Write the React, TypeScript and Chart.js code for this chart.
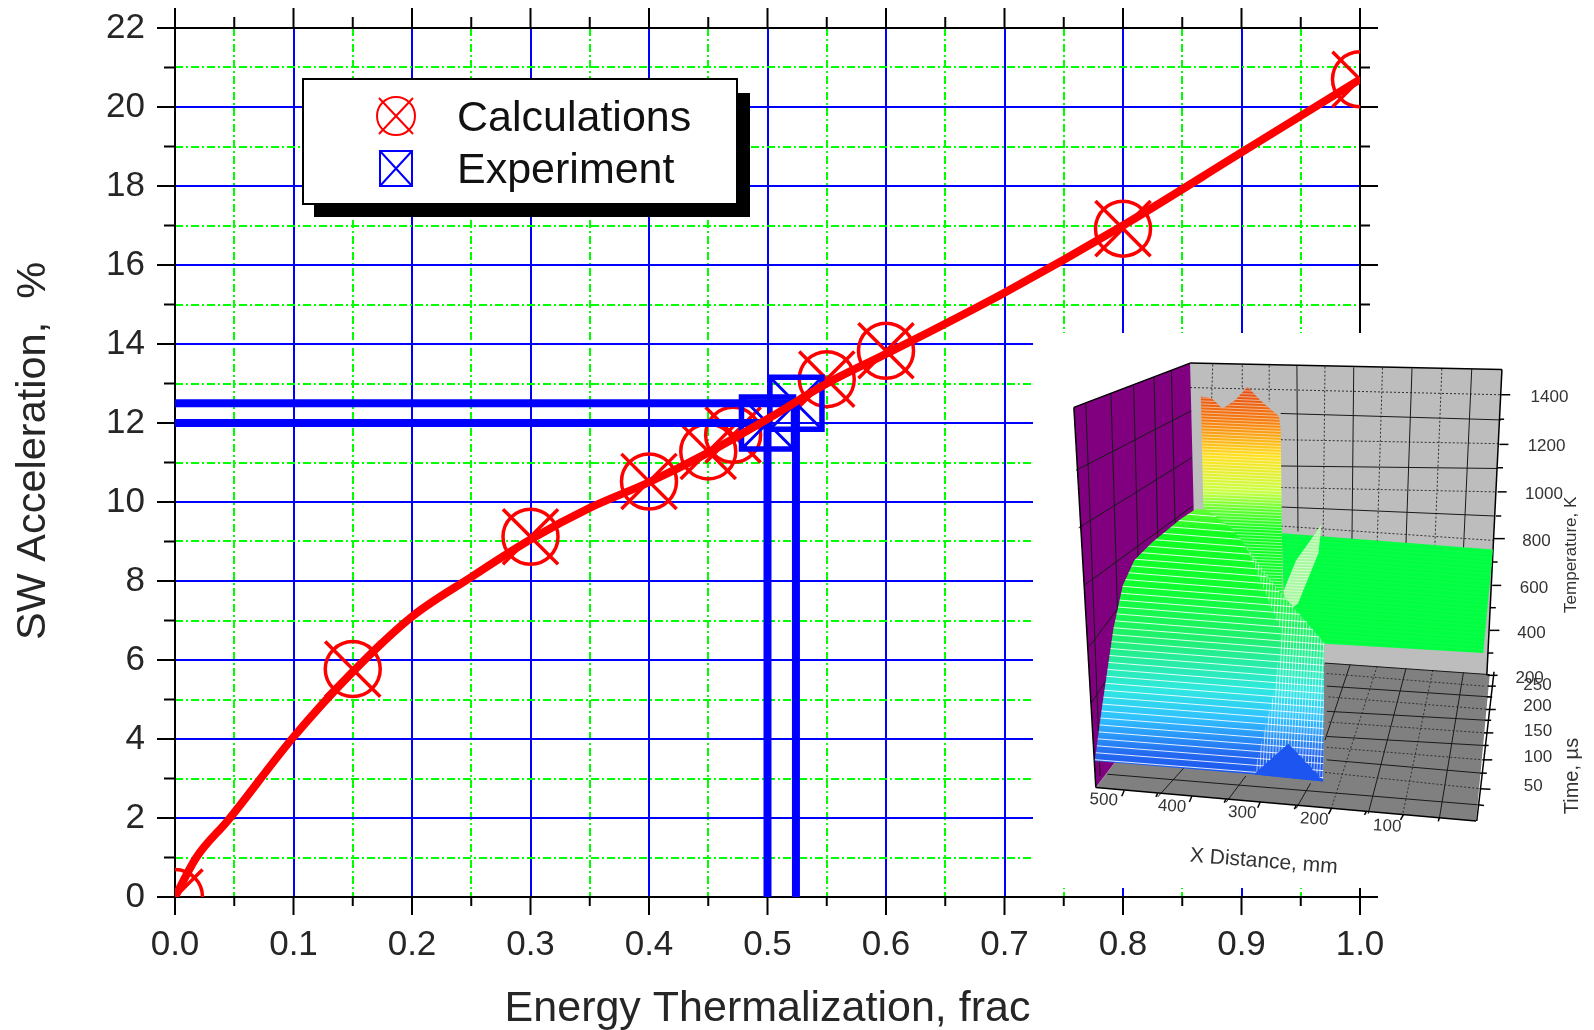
import React, { useEffect, useRef } from "react";
import { Chart, registerables } from "chart.js";

Chart.register(...registerables);

const FONT = '"Liberation Sans", Arial, sans-serif';
const BLUE = "#0000ff";
const GREEN = "#00ff00";
const RED = "#ff0000";
const INK = "#262626";

// ---------- main chart data ----------
const curveX = [0, 0.018, 0.045, 0.1, 0.15, 0.2, 0.25, 0.3, 0.35, 0.4, 0.45, 0.5, 0.55, 0.6, 0.7, 0.8, 0.9, 1];
const curveY = [0, 1, 1.95, 4.05, 5.7, 7.1, 8.1, 9.05, 9.85, 10.5, 11.25, 12.1, 13, 13.75, 15.3, 17, 18.85, 20.7];
const calcX = [0, 0.15, 0.3, 0.4, 0.45, 0.471, 0.55, 0.6, 0.8, 1];
const calcY = [0, 5.77, 9.12, 10.52, 11.28, 11.7, 13.11, 13.83, 16.92, 20.7];
const expX = [0.5, 0.524];
const expY = [12, 12.5];
const legendLabels = ["Calculations", "Experiment"];
const xTitle = "Energy Thermalization, frac";
const yTitle = "  SW Acceleration,  %";

// ---------- inset data (picture units of the inset) ----------
const backWall = [[445, 92], [1312, 110], [1270, 960], [445, 900]];
const sideWall = [[122, 215], [445, 92], [465, 900], [183, 1272]];
const floorPlane = [[183, 1272], [1240, 1365], [1278, 958], [465, 900]];
const plane = [[700, 565], [1287, 610], [1260, 898], [820, 872], [785, 850], [735, 790], [705, 740]];
const frontBlock = [[180, 1198], [200, 1050], [232, 830], [258, 710], [290, 640], [340, 590], [420, 525], [460, 498], [490, 498], [560, 552], [592, 590], [630, 655], [700, 735], [760, 800], [818, 870], [815, 1255], [620, 1235]];
const ridge = [[475, 185], [505, 190], [535, 218], [570, 195], [605, 158], [640, 195], [692, 240], [697, 280], [702, 720], [705, 800], [630, 655], [592, 590], [482, 495]];
const sideRidge = [[810, 540], [802, 620], [745, 760], [712, 785], [705, 725], [740, 640], [790, 570]];
const paleCore = [[600, 600], [700, 735], [818, 870], [815, 1250], [720, 1150], [622, 1235], [680, 1000], [700, 840]];
const blueNotch = [[622, 1236], [718, 1150], [815, 1255]];
const darkSegments = [
  [155, 205, 195, 1240], [225, 178, 250, 1000], [288, 155, 305, 800], [345, 132, 358, 700], [393, 112, 405, 600],
  [128, 390, 448, 225], [135, 550, 450, 355], [150, 710, 452, 490], [165, 880, 300, 700], [172, 1035, 240, 930],
  [742, 100, 745, 560], [900, 104, 895, 590], [1062, 107, 1045, 600], [1228, 109, 1205, 610],
  [697, 232, 1310, 250], [697, 378, 1300, 385], [697, 492, 1290, 517],
  [820, 926, 1278, 958], [825, 990, 1280, 1020], [825, 1060, 1270, 1085], [825, 1130, 1262, 1155], [825, 1195, 1255, 1232],
  [215, 1235, 1245, 1320], [890, 930, 820, 1140], [1045, 942, 940, 1345], [1205, 952, 1138, 1358],
  [355, 1298, 430, 1215], [545, 1313, 600, 1240], [740, 1330, 780, 1260],
];
const dottedSegments = [
  [508, 96, 505, 190], [590, 98, 590, 160], [665, 99, 665, 200], [820, 102, 815, 580], [980, 105, 965, 600], [1145, 108, 1125, 610],
  [445, 160, 1310, 180], [697, 305, 1305, 316], [697, 438, 1295, 450], [697, 545, 1288, 585],
  [965, 935, 835, 1338], [1120, 945, 1035, 1352],
  [825, 955, 1262, 990], [830, 1020, 1280, 1055], [830, 1090, 1265, 1120], [825, 1160, 1260, 1195], [820, 1230, 1250, 1275],
];
const axisSegments = [
  [183, 1272, 1240, 1365], [1312, 110, 1270, 960], [1290, 950, 1242, 1365], [122, 215, 445, 92], [445, 92, 1312, 110], [122, 215, 183, 1272],
  [1310, 180, 1335, 180], [1305, 248, 1318, 248], [1305, 318, 1330, 318], [1300, 383, 1315, 383], [1300, 450, 1325, 450], [1295, 517, 1310, 517],
  [1290, 580, 1320, 580], [1285, 645, 1300, 645], [1285, 710, 1310, 710], [1280, 772, 1295, 772], [1278, 835, 1305, 835], [1272, 898, 1288, 898], [1272, 960, 1300, 960],
  [1272, 990, 1295, 990], [1270, 1020, 1285, 1020], [1268, 1055, 1295, 1055], [1265, 1085, 1282, 1085], [1262, 1120, 1288, 1120], [1260, 1155, 1275, 1155],
  [1258, 1195, 1285, 1195], [1252, 1232, 1270, 1232], [1250, 1275, 1280, 1277], [1245, 1320, 1262, 1322],
  [262, 1280, 255, 1296], [355, 1288, 350, 1298], [450, 1296, 443, 1312], [545, 1304, 540, 1314], [640, 1312, 633, 1328], [740, 1322, 735, 1332], [838, 1330, 830, 1346], [935, 1338, 930, 1348], [1038, 1348, 1030, 1362], [1138, 1356, 1135, 1366],
];
const tempLabels = ["1400", "1200", "1000", "800", "600", "400", "200"];
const tempAnchors = [[1444, 187], [1436, 322], [1429, 457], [1408, 587], [1401, 717], [1394, 842], [1389, 967]];
const timeLabels = ["250", "200", "150", "100", "50"];
const timeAnchors = [[1411, 988], [1411, 1047], [1412, 1115], [1412, 1187], [1399, 1268]];
const distLabels = ["500", "400", "300", "200", "100"];
const distAnchors = [[205, 1307], [395, 1325], [590, 1342], [790, 1360], [993, 1380]];
const insetTitles = ["Temperature, K", "Time, \u00b5s", "X Distance, mm"];
const colorStops: [number, string][] = [
  [160, "#e04a18"], [250, "#f57a10"], [350, "#ffe020"], [450, "#c8ff40"], [500, "#60ff30"], [560, "#12ff20"], [720, "#10ff30"],
  [860, "#20f070"], [1000, "#30e8e0"], [1080, "#30c0ff"], [1180, "#2468f0"], [1255, "#1850f0"],
];

const Z = 2.78;
const INSET_LEFT = 1033;
const INSET_TOP = 333;
const INSET_W = 561;
const INSET_H = 555;
const zMinX = (INSET_LEFT - 1030) * Z;
const zMinY = (INSET_TOP - 330) * Z;

const pairs = (xs: number[], ys: number[]) => xs.map((x, i) => ({ x, y: ys[i] }));
const isMajorX = (v: number) => Math.abs(v * 10 - Math.round(v * 10)) < 1e-6;

function stripePattern(ctx: CanvasRenderingContext2D, w: number, h: number, alpha: number, vertical: boolean, angle: number) {
  const c = document.createElement("canvas");
  c.width = w;
  c.height = h;
  const g = c.getContext("2d")!;
  g.fillStyle = `rgba(255,255,255,${alpha})`;
  if (vertical) g.fillRect(0, 0, 1, h);
  else g.fillRect(0, 0, w, 1);
  const p = ctx.createPattern(c, "repeat")!;
  p.setTransform(new DOMMatrix().rotate(angle));
  return p;
}

const framePlugin = {
  id: "frameTicks",
  beforeDatasetsDraw(chart: any) {
    const { ctx, chartArea: a, scales } = chart;
    ctx.save();
    ctx.strokeStyle = "#000";
    ctx.lineWidth = 2;
    const line = (x1: number, y1: number, x2: number, y2: number) => {
      ctx.beginPath();
      ctx.moveTo(x1, y1);
      ctx.lineTo(x2, y2);
      ctx.stroke();
    };
    line(a.left, a.top, a.left, a.bottom);
    line(a.right, a.top, a.right, a.bottom);
    line(a.left, a.top, a.right, a.top);
    line(a.left, a.bottom, a.right, a.bottom);
    for (const t of scales.x.ticks) {
      const x = scales.x.getPixelForValue(t.value);
      const major = isMajorX(t.value);
      line(x, a.top, x, a.top - (major ? 20 : 11));
      line(x, a.bottom, x, a.bottom + (major ? 18 : 9));
    }
    for (const t of scales.y.ticks) {
      const y = scales.y.getPixelForValue(t.value);
      const major = t.value % 2 === 0;
      line(a.left, y, a.left - (major ? 18 : 11), y);
      line(a.right, y, a.right + (major ? 18 : 10), y);
    }
    ctx.restore();
  },
};

const legendPlugin = {
  id: "boxLegend",
  afterDraw(chart: any) {
    const { ctx } = chart;
    ctx.save();
    ctx.fillStyle = "#000";
    ctx.fillRect(314, 93, 436, 124);
    ctx.fillStyle = "#fff";
    ctx.fillRect(303, 79, 434, 125);
    ctx.strokeStyle = "#000";
    ctx.lineWidth = 2;
    ctx.strokeRect(303, 79, 434, 125);
    const cx = 396;
    ctx.lineWidth = 2;
    ctx.strokeStyle = RED;
    ctx.beginPath();
    ctx.arc(cx, 116, 19, 0, Math.PI * 2);
    ctx.moveTo(cx - 17, 98);
    ctx.lineTo(cx + 17, 134);
    ctx.moveTo(cx + 17, 98);
    ctx.lineTo(cx - 17, 134);
    ctx.stroke();
    ctx.strokeStyle = BLUE;
    ctx.strokeRect(cx - 16, 151, 32, 35);
    ctx.beginPath();
    ctx.moveTo(cx - 16, 151);
    ctx.lineTo(cx + 16, 186);
    ctx.moveTo(cx + 16, 151);
    ctx.lineTo(cx - 16, 186);
    ctx.stroke();
    ctx.fillStyle = "#111";
    ctx.font = `43px ${FONT}`;
    ctx.textBaseline = "alphabetic";
    ctx.textAlign = "left";
    ctx.fillText(legendLabels[0], 457, 131);
    ctx.fillText(legendLabels[1], 457, 183);
    ctx.restore();
  },
};

const insetTextPlugin = {
  id: "insetText",
  afterDraw(chart: any) {
    const { ctx, scales } = chart;
    const px = (p: number[]) => [scales.x.getPixelForValue(p[0]), scales.y.getPixelForValue(p[1])];
    ctx.save();
    ctx.fillStyle = "#333";
    ctx.textAlign = "center";
    ctx.textBaseline = "middle";
    ctx.font = `17px ${FONT}`;
    const put = (labels: string[], anchors: number[][]) =>
      labels.forEach((s, i) => {
        const [x, y] = px(anchors[i]);
        ctx.fillText(s, x, y);
      });
    put(tempLabels, tempAnchors);
    put(timeLabels, timeAnchors);
    const rotated = (s: string, p: number[], deg: number, size: number) => {
      const [x, y] = px(p);
      ctx.save();
      ctx.translate(x, y);
      ctx.rotate((deg * Math.PI) / 180);
      ctx.font = `${size}px ${FONT}`;
      ctx.fillText(s, 0, 0);
      ctx.restore();
    };
    distLabels.forEach((s, i) => rotated(s, distAnchors[i], 3, 17));
    rotated(insetTitles[0], [1505, 625], -90, 17);
    rotated(insetTitles[1], [1507, 1240], -90, 20);
    rotated(insetTitles[2], [650, 1478], 4.5, 21);
    ctx.restore();
  },
};

export default function App() {
  const mainRef = useRef<HTMLCanvasElement>(null);
  const insetRef = useRef<HTMLCanvasElement>(null);

  useEffect(() => {
    const curve = pairs(curveX, curveY);
    const calc = pairs(calcX, calcY);
    const exp = pairs(expX, expY);
    const guide = (data: { x: number; y: number }[]) => ({
      data,
      borderColor: BLUE,
      borderWidth: 8,
      pointRadius: 0,
      order: 1,
    });
    const marks = (data: any[], style: string, radius: number, color: string, width: number, order: number) => ({
      data,
      showLine: false,
      pointStyle: style,
      pointRadius: radius,
      pointBorderColor: color,
      pointBackgroundColor: "transparent",
      pointBorderWidth: width,
      clip: 0,
      order,
    });
    const main = new Chart(mainRef.current!, {
      type: "line",
      data: {
        datasets: [
          { label: "curve", data: curve, borderColor: RED, borderWidth: 8, pointRadius: 0, order: 0, cubicInterpolationMode: "monotone" },
          ...exp.map((p) => guide([{ x: 0, y: p.y }, p])),
          ...exp.map((p) => guide([p, { x: p.x, y: 0 }])),
          marks(exp, "rect", 36.8, BLUE, 5.5, 2),
          marks(exp, "crossRot", 36.8, BLUE, 3, 2),
          marks(calc, "circle", 27.5, RED, 3.5, 3),
          marks(calc, "crossRot", 39, RED, 3.5, 3),
        ] as any,
      },
      options: {
        animation: false,
        responsive: false,
        layout: { autoPadding: false, padding: { top: 28, right: 234, left: 0, bottom: 0 } },
        plugins: { legend: { display: false }, tooltip: { enabled: false } },
        scales: {
          x: {
            type: "linear",
            min: 0,
            max: 1,
            afterFit: (s: any) => {
              s.height = 133;
              s.paddingLeft = 0;
              s.paddingRight = 0;
            },
            border: {
              display: false,
              dash: (c: any) => (c.tick && isMajorX(c.tick.value) ? [] : [8, 3, 2, 3]),
            },
            grid: {
              drawTicks: false,
              lineWidth: 2,
              color: (c: any) => (c.tick && isMajorX(c.tick.value) ? BLUE : GREEN),
            },
            ticks: {
              stepSize: 0.05,
              autoSkip: false,
              maxRotation: 0,
              padding: 27,
              color: INK,
              font: { family: FONT, size: 35 },
              callback: (v: any) => (isMajorX(Number(v)) ? Number(v).toFixed(1) : ""),
            },
            title: { display: true, text: xTitle, color: INK, font: { family: FONT, size: 43 }, padding: { top: 0, bottom: -5 } },
          },
          y: {
            type: "linear",
            min: 0,
            max: 22,
            afterFit: (s: any) => {
              s.width = 175;
              s.paddingTop = 0;
              s.paddingBottom = 0;
            },
            border: {
              display: false,
              dash: (c: any) => (c.tick && c.tick.value % 2 === 0 ? [] : [8, 3, 2, 3]),
            },
            grid: {
              drawTicks: false,
              lineWidth: 2,
              color: (c: any) => (c.tick && c.tick.value % 2 === 0 ? BLUE : GREEN),
            },
            ticks: {
              stepSize: 1,
              autoSkip: false,
              padding: 30,
              color: INK,
              font: { family: FONT, size: 35 },
              callback: (v: any) => (Number(v) % 2 === 0 ? String(v) : ""),
            },
            title: { display: true, text: yTitle, color: INK, font: { family: FONT, size: 41.5 }, padding: { top: 9, bottom: 0 } },
          },
        },
      } as any,
      plugins: [framePlugin, legendPlugin],
    });

    const ictx = insetRef.current!.getContext("2d")!;
    const grad = ictx.createLinearGradient(0, 0, 0, INSET_H);
    colorStops.forEach(([z, col]) => grad.addColorStop((z - zMinY) / Z / INSET_H, col));
    const fineStripes = stripePattern(ictx, 8, 3, 0.5, false, 2.5);
    const wideStripes = stripePattern(ictx, 8, 7, 0.85, false, 4.5);
    const coreStripes = stripePattern(ictx, 3, 8, 0.6, true, 3);
    const planeStripes = stripePattern(ictx, 8, 4, 0.06, false, 4);
    const P = (pts: number[][]) => pts.map(([x, y]) => ({ x, y }));
    const poly = (pts: number[][], fill: any) => ({
      data: P([...pts, pts[0]]),
      borderWidth: 0,
      borderColor: "transparent",
      backgroundColor: fill,
      fill: "shape",
      pointRadius: 0,
    });
    const seg = (s: number[], color: string, width: number, dash: number[] = []) => ({
      data: [{ x: s[0], y: s[1] }, { x: s[2], y: s[3] }],
      borderColor: color,
      borderWidth: width,
      borderDash: dash,
      fill: false,
      pointRadius: 0,
    });
    const paintOrder = [
      poly(backWall, "#bdbdbd"),
      poly(sideWall, "#800080"),
      poly(floorPlane, "#808080"),
      ...dottedSegments.map((s) => seg(s, "#303030", 1, [2, 2])),
      ...darkSegments.map((s) => seg(s, "#1a1a1a", 1)),
      ...axisSegments.map((s) => seg(s, "#000", 1.5)),
      poly(plane, "#00ff40"),
      poly(plane, planeStripes),
      poly(sideRidge, "#a8f8a0"),
      poly(sideRidge, fineStripes),
      poly(ridge, grad),
      poly(ridge, fineStripes),
      poly(frontBlock, grad),
      poly(frontBlock, wideStripes),
      poly(paleCore, coreStripes),
      poly(blueNotch, "#1c55f0"),
    ];
    const inset = new Chart(insetRef.current!, {
      type: "line",
      data: { datasets: paintOrder.slice().reverse() as any },
      options: {
        animation: false,
        responsive: false,
        layout: { autoPadding: false },
        plugins: { legend: { display: false }, tooltip: { enabled: false } },
        elements: { line: { tension: 0 } },
        scales: {
          x: { type: "linear", display: false, min: zMinX, max: zMinX + INSET_W * Z },
          y: { type: "linear", display: false, reverse: true, min: zMinY, max: zMinY + INSET_H * Z },
        },
      } as any,
      plugins: [insetTextPlugin],
    });

    return () => {
      main.destroy();
      inset.destroy();
    };
  }, []);

  return (
    <div style={{ position: "absolute", left: 0, top: 0, width: 1594, height: 1030, overflow: "hidden", background: "#fff" }}>
      <canvas ref={mainRef} width={1594} height={1030} style={{ position: "absolute", left: 0, top: 0, filter: "blur(0.5px)" }} />
      <canvas
        ref={insetRef}
        width={INSET_W}
        height={INSET_H}
        style={{ position: "absolute", left: INSET_LEFT, top: INSET_TOP, background: "#fff", filter: "blur(0.5px)" }}
      />
    </div>
  );
}
